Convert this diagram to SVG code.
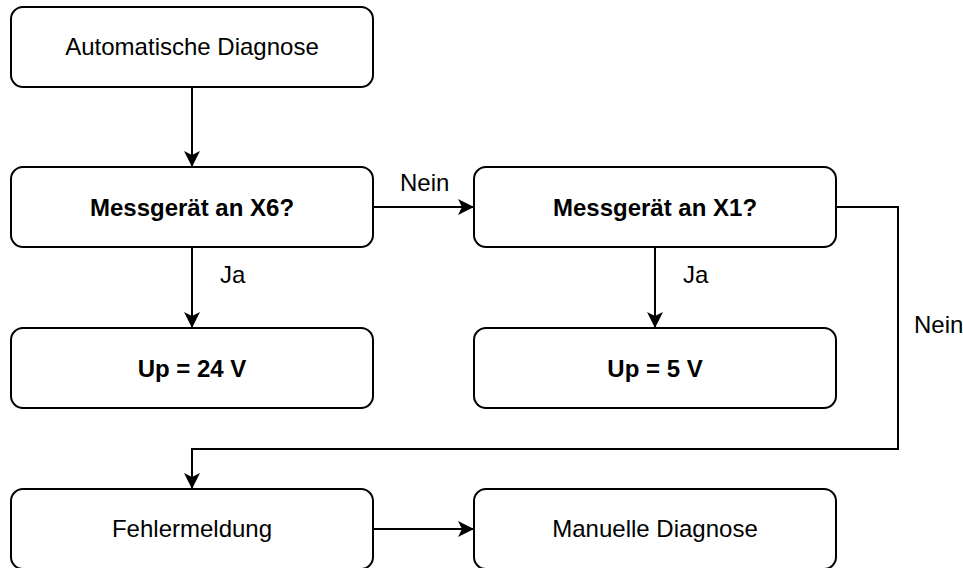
<svg xmlns="http://www.w3.org/2000/svg" width="963" height="568" viewBox="0 0 963 568">
<style>
.box{fill:#fff;stroke:#000;stroke-width:2}
.t{font-family:"Liberation Sans",Arial,sans-serif;font-size:24px;fill:#000;text-anchor:middle}
.b{font-weight:bold}
.l{font-family:"Liberation Sans",Arial,sans-serif;font-size:24px;fill:#000}
.e{fill:none;stroke:#000;stroke-width:2}
</style>
<defs>
<marker id="arr" markerUnits="userSpaceOnUse" viewBox="-17 -9 18 18" refX="0" refY="0" markerWidth="18" markerHeight="18" orient="auto">
<path d="M0,0 L-16,-8 L-12,0 L-16,8 Z" fill="#000"/>
</marker>
</defs>
<g id="connectors">
<path class="e" d="M192,87 V167" marker-end="url(#arr)"/>
<path class="e" d="M373,207 H474" marker-end="url(#arr)"/>
<path class="e" d="M192,247 V328" marker-end="url(#arr)"/>
<path class="e" d="M655,247 V328" marker-end="url(#arr)"/>
<path class="e" d="M836,207 H898 V449 H192 V489" marker-end="url(#arr)"/>
<path class="e" d="M373,529 H474" marker-end="url(#arr)"/>
<text class="l" x="400" y="191">Nein</text>
<text class="l" x="220" y="283">Ja</text>
<text class="l" x="683" y="283">Ja</text>
<text class="l" x="914" y="333">Nein</text>
</g>
<g id="auto"><rect class="box" x="11" y="7" width="362" height="80" rx="12"/><text class="t" x="192" y="55">Automatische Diagnose</text></g>
<g id="x6"><rect class="box" x="11" y="167" width="362" height="80" rx="12"/><text class="t b" x="192" y="216">Messgerät an X6?</text></g>
<g id="x1"><rect class="box" x="474" y="167" width="362" height="80" rx="12"/><text class="t b" x="655" y="216">Messgerät an X1?</text></g>
<g id="up24"><rect class="box" x="11" y="328" width="362" height="80" rx="12"/><text class="t b" x="192" y="377">Up = 24 V</text></g>
<g id="up5"><rect class="box" x="474" y="328" width="362" height="80" rx="12"/><text class="t b" x="655" y="377">Up = 5 V</text></g>
<g id="fehler"><rect class="box" x="11" y="489" width="362" height="80" rx="12"/><text class="t" x="192" y="537">Fehlermeldung</text></g>
<g id="manuell"><rect class="box" x="474" y="489" width="362" height="80" rx="12"/><text class="t" x="655" y="537">Manuelle Diagnose</text></g>
</svg>
